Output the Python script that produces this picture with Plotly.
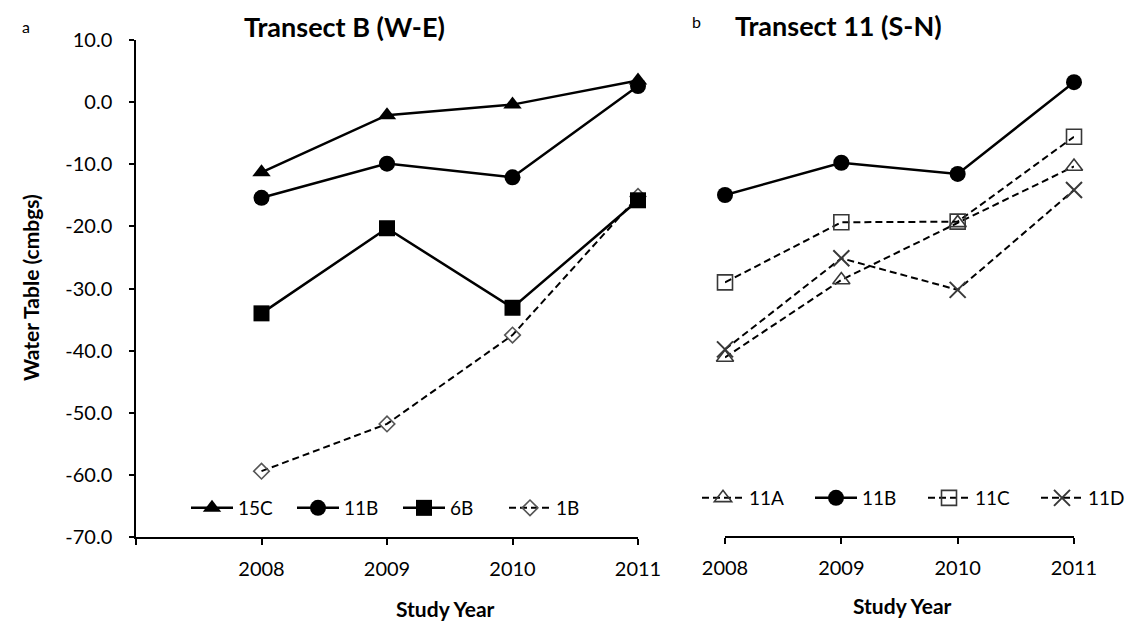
import plotly.graph_objects as go

years = [2008, 2009, 2010, 2011]

# Transect B (W-E)
b_15c = [-11.3, -2.1, -0.4, 3.5]
b_11b = [-15.4, -9.9, -12.1, 2.6]
b_6b = [-34.0, -20.3, -33.1, -15.8]
b_1b = [-59.4, -51.8, -37.5, -15.2]

# Transect 11 (S-N)
t_11a = [-41.2, -28.7, -19.5, -10.4]
t_11b = [-15.0, -9.8, -11.6, 3.2]
t_11c = [-29.1, -19.4, -19.3, -5.6]
t_11d = [-39.9, -25.2, -30.3, -14.2]

y_ticks = [10, 0, -10, -20, -30, -40, -50, -60, -70]
y_tick_text = [f"{v:.1f}" for v in y_ticks]
x_ticks_left = [2007, 2008, 2009, 2010, 2011]
x_text_left = ["", "2008", "2009", "2010", "2011"]
x_ticks_right = [2008, 2009, 2010, 2011]

FONT = "Lato"
DASH = "7px,4px"

fig = go.Figure()

def add(y, name, symbol, size, dash, mcolor, xa, ya, leg, rank, mlw=0):
    fig.add_trace(go.Scatter(
        x=years, y=y, name=name, mode="lines+markers",
        line=dict(color="black", width=2.5 if dash is None else 2, dash=dash or "solid"),
        marker=dict(symbol=symbol, size=size, color=mcolor,
                    line=dict(width=mlw, color=mcolor)),
        xaxis=xa, yaxis=ya, legend=leg, legendrank=rank, cliponaxis=False))

add(b_1b, "1B", "diamond-open", 12, DASH, "#555555", "x", "y", "legend", 4, 1.6)
add(b_15c, "15C", "triangle-up", 16, None, "black", "x", "y", "legend", 1)
add(b_11b, "11B", "circle", 16, None, "black", "x", "y", "legend", 2)
add(b_6b, "6B", "square", 16, None, "black", "x", "y", "legend", 3)

add(t_11a, "11A", "triangle-up-open", 15, DASH, "#383838", "x2", "y2", "legend2", 1, 1.6)
add(t_11b, "11B", "circle", 16, None, "black", "x2", "y2", "legend2", 2)
add(t_11c, "11C", "square-open", 15, DASH, "#383838", "x2", "y2", "legend2", 3, 1.6)
add(t_11d, "11D", "x-thin-open", 16, DASH, "#383838", "x2", "y2", "legend2", 4, 2)

# page body has an 8px margin; work in reference pixel coordinates
OFF = 8
W, H = 1133 - OFF, 624 - OFF
def px(v):
    return (v - OFF) / W
def py(v):
    return 1 - (v - OFF) / H

tickfont = dict(family=FONT, size=20, color="black")

fig.update_layout(
    width=W, height=H,
    margin=dict(l=0, r=0, t=0, b=0, autoexpand=False),
    paper_bgcolor="white", plot_bgcolor="white",
    font=dict(family=FONT, color="black"),
    xaxis=dict(domain=[px(136), px(638)], range=[2007, 2011],
               tickvals=x_ticks_left, ticktext=x_text_left,
               ticks="outside", ticklen=6, tickwidth=1.5, tickcolor="black",
               showline=True, linecolor="black", linewidth=1.5,
               showgrid=False, zeroline=False, tickfont=tickfont,
               ticklabelstandoff=7, anchor="y"),
    yaxis=dict(domain=[py(537), py(40)], range=[-70, 10],
               tickvals=y_ticks, ticktext=y_tick_text,
               ticks="outside", ticklen=5, tickwidth=1.5, tickcolor="black",
               showline=True, linecolor="black", linewidth=1.5,
               showgrid=False, zeroline=False, tickfont=tickfont,
               ticklabelstandoff=13, anchor="x"),
    xaxis2=dict(domain=[px(725), px(1074)], range=[2008, 2011],
                tickvals=x_ticks_right,
                ticks="outside", ticklen=6, tickwidth=1.5, tickcolor="black",
                showline=True, linecolor="black", linewidth=1.5,
                showgrid=False, zeroline=False, tickfont=tickfont,
                ticklabelstandoff=7, anchor="y2"),
    yaxis2=dict(domain=[py(536), py(40)], range=[-70, 10],
                visible=False, anchor="x2"),
    legend=dict(orientation="h", x=px(186), xanchor="left", y=py(508), yanchor="middle",
                font=dict(family=FONT, size=19, color="black"),
                itemwidth=42, entrywidth=49, bgcolor="rgba(0,0,0,0)",
                tracegroupgap=0, itemclick=False),
    legend2=dict(orientation="h", x=px(697), xanchor="left", y=py(498), yanchor="middle",
                 font=dict(family=FONT, size=19, color="black"),
                 itemwidth=42, entrywidth=56, bgcolor="rgba(0,0,0,0)",
                 tracegroupgap=0, itemclick=False),
    showlegend=True,
)

annotations = [
    dict(text="<b>Transect B (W-E)</b>", x=px(344), y=py(26), font=dict(size=27)),
    dict(text="<b>Transect 11 (S-N)</b>", x=px(838), y=py(25), font=dict(size=27)),
    dict(text="a", x=px(26), y=py(26), font=dict(size=16)),
    dict(text="b", x=px(696), y=py(22), font=dict(size=16)),
    dict(text="<b>Study Year</b>", x=px(445), y=py(608), font=dict(size=21)),
    dict(text="<b>Study Year</b>", x=px(902), y=py(605), font=dict(size=21)),
    dict(text="<b>Water Table (cmbgs)</b>", x=px(30), y=py(288), font=dict(size=21), textangle=-90),
]
for a in annotations:
    a.update(xref="paper", yref="paper", showarrow=False, xanchor="center", yanchor="middle")
    a["font"].update(family=FONT, color="black")
fig.update_layout(annotations=annotations)

fig.write_html("out.html")
